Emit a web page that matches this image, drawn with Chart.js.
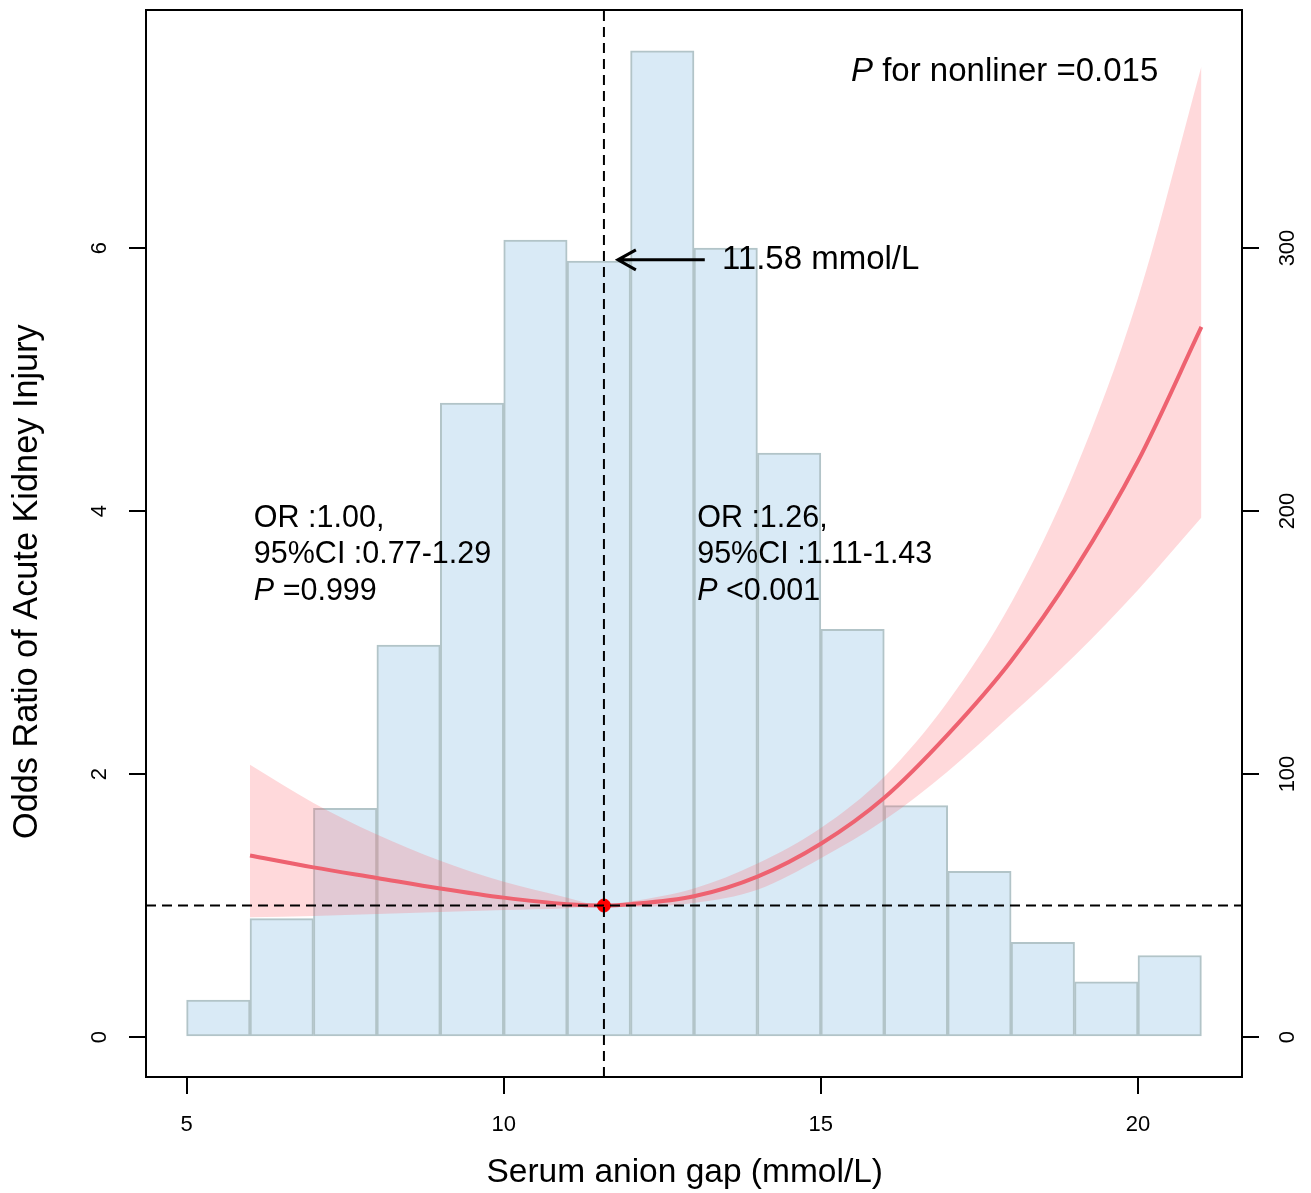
<!DOCTYPE html>
<html>
<head>
<meta charset="utf-8">
<script src="https://cdn.jsdelivr.net/npm/chart.js@4.4.1/dist/chart.umd.min.js"></script>
<style>
html, body { margin: 0; padding: 0; background: #fff; }
#wrap { width: 1311px; height: 1193px; }
</style>
</head>
<body>
<div id="wrap"><canvas id="c" width="1311" height="1193"></canvas></div>
<script>
// histogram of serum anion gap: bin centres and patient counts (right axis)
var binCentres = [5.5, 6.5, 7.5, 8.5, 9.5, 10.5, 11.5, 12.5, 13.5, 14.5, 15.5, 16.5, 17.5, 18.5, 19.5, 20.5];
var binCounts  = [14, 45, 87, 149, 241, 303, 295, 375, 300, 222, 155, 88, 63, 36, 21, 31];

// spline fit: odds ratio and 95% CI (left axis)
var splineX     = [6, 7, 8, 9, 10, 11, 11.58, 12, 13, 14, 15, 16, 17, 18, 19, 20, 21];
var splineOR    = [1.38, 1.29, 1.21, 1.13, 1.06, 1.01, 1.00, 1.01, 1.07, 1.22, 1.47, 1.82, 2.30, 2.86, 3.55, 4.38, 5.40];
var splineUpper = [2.07, 1.78, 1.54, 1.34, 1.18, 1.06, 1.00, 1.03, 1.13, 1.32, 1.59, 1.98, 2.55, 3.30, 4.30, 5.62, 7.38];
var splineLower = [0.91, 0.92, 0.935, 0.95, 0.966, 0.98, 1.00, 0.99, 1.02, 1.12, 1.36, 1.65, 2.02, 2.45, 2.90, 3.40, 3.95];

var refValue   = 11.58;
var xTicks     = [5, 10, 15, 20];
var orTicks    = [0, 2, 4, 6];
var countTicks = [0, 100, 200, 300];

var X_MIN = 4.36, X_MAX = 21.64;
var OR_MIN = -0.304, OR_MAX = 7.81;
var CNT_MIN = OR_MIN * 50, CNT_MAX = OR_MAX * 50;

var FONT = '"Liberation Sans", Arial, Helvetica, sans-serif';

function pts(xs, ys) {
    return xs.map(function (x, i) { return { x: x, y: ys[i] }; });
}

function fixedTicks(list) {
    return function (scale) {
        scale.ticks = list.map(function (v) { return { value: v }; });
    };
}

// draws a line of text where some parts are italic
function richText(ctx, parts, x, y, align, size) {
    var total = 0;
    parts.forEach(function (p) {
        ctx.font = (p.italic ? 'italic ' : '') + size + 'px ' + FONT;
        p.w = ctx.measureText(p.t).width;
        total += p.w;
    });
    var cx = align === 'right' ? x - total : x;
    ctx.textAlign = 'left';
    ctx.textBaseline = 'middle';
    parts.forEach(function (p) {
        ctx.font = (p.italic ? 'italic ' : '') + size + 'px ' + FONT;
        ctx.fillText(p.t, cx, y);
        cx += p.w;
    });
}

var annotations = {
    id: 'annotations',
    afterDraw: function (chart) {
        var ctx = chart.ctx;
        var a = chart.chartArea;
        var xs = chart.scales.x, ys = chart.scales.y;
        ctx.save();
        ctx.fillStyle = '#000';
        ctx.strokeStyle = '#000';

        // plot frame
        ctx.lineWidth = 2;
        ctx.strokeRect(a.left, a.top, a.right - a.left, a.bottom - a.top);

        // P for nonlinearity
        richText(ctx, [{ t: 'P', italic: true }, { t: ' for nonliner =0.015' }],
            xs.getPixelForValue(20.32), ys.getPixelForValue(7.34), 'right', 33);

        // cut-off arrow
        var ay = ys.getPixelForValue(5.91);
        var tip = xs.getPixelForValue(11.80), tail = xs.getPixelForValue(13.17);
        ctx.lineWidth = 3;
        ctx.beginPath();
        ctx.moveTo(tail, ay);
        ctx.lineTo(tip, ay);
        ctx.moveTo(tip + 18, ay - 10);
        ctx.lineTo(tip, ay);
        ctx.lineTo(tip + 18, ay + 10);
        ctx.stroke();
        richText(ctx, [{ t: '11.58 mmol/L' }], xs.getPixelForValue(13.44), ay, 'left', 33);

        // OR blocks
        var leftX = xs.getPixelForValue(6.06), rightX = xs.getPixelForValue(13.05);
        var rows = [3.94, 3.665, 3.385].map(function (v) { return ys.getPixelForValue(v); });
        richText(ctx, [{ t: 'OR :1.00,' }], leftX, rows[0], 'left', 30.5);
        richText(ctx, [{ t: '95%CI :0.77-1.29' }], leftX, rows[1], 'left', 30.5);
        richText(ctx, [{ t: 'P', italic: true }, { t: ' =0.999' }], leftX, rows[2], 'left', 30.5);
        richText(ctx, [{ t: 'OR :1.26,' }], rightX, rows[0], 'left', 30.5);
        richText(ctx, [{ t: '95%CI :1.11-1.43' }], rightX, rows[1], 'left', 30.5);
        richText(ctx, [{ t: 'P', italic: true }, { t: ' <0.001' }], rightX, rows[2], 'left', 30.5);
        ctx.restore();
    }
};

function axisStyle() {
    return {
        grid: { drawOnChartArea: false, drawTicks: true, tickLength: 17, color: '#000', lineWidth: 2, offset: false },
        border: { display: true, color: '#000', width: 2 }
    };
}

var chart = new Chart(document.getElementById('c').getContext('2d'), {
    type: 'line',
    data: {
        datasets: [
            {
                label: 'ref-vertical',
                data: [{ x: refValue, y: OR_MIN }, { x: refValue, y: OR_MAX }],
                borderColor: '#000', borderWidth: 2, borderDash: [10, 6],
                pointRadius: 0, order: 0
            },
            {
                label: 'ref-horizontal',
                data: [{ x: X_MIN, y: 1 }, { x: X_MAX, y: 1 }],
                borderColor: '#000', borderWidth: 2, borderDash: [10, 6],
                pointRadius: 0, order: 0
            },
            {
                label: 'cut-off',
                data: [{ x: refValue, y: 1 }],
                showLine: false, pointRadius: 6.5,
                pointBackgroundColor: '#ff0000', pointBorderColor: '#ff0000', order: 1
            },
            {
                label: 'OR',
                data: pts(splineX, splineOR),
                borderColor: '#ee6270', borderWidth: 4,
                cubicInterpolationMode: 'monotone', pointRadius: 0, order: 2
            },
            {
                label: 'upper',
                data: pts(splineX, splineUpper),
                borderWidth: 0, pointRadius: 0,
                cubicInterpolationMode: 'monotone',
                fill: '+1', backgroundColor: 'rgba(255, 95, 105, 0.24)', order: 3
            },
            {
                label: 'lower',
                data: pts(splineX, splineLower),
                borderWidth: 0, pointRadius: 0,
                cubicInterpolationMode: 'monotone', fill: false, order: 3
            },
            {
                type: 'bar',
                label: 'count',
                yAxisID: 'y2',
                data: pts(binCentres, binCounts),
                backgroundColor: '#d9eaf6',
                borderColor: '#b2c4c8',
                borderWidth: 2,
                borderSkipped: false,
                barPercentage: 1,
                categoryPercentage: 1,
                order: 5
            }
        ]
    },
    options: {
        responsive: false,
        animation: false,
        layout: { padding: { top: 10, left: 0, right: 0, bottom: 0 } },
        plugins: { legend: { display: false }, tooltip: { enabled: false } },
        scales: {
            x: Object.assign({
                type: 'linear', min: X_MIN, max: X_MAX, offset: false,
                afterBuildTicks: fixedTicks(xTicks),
                afterFit: function (s) { s.height = 116; s.paddingLeft = 0; s.paddingRight = 0; },
                ticks: { color: '#000', font: { size: 22, family: FONT }, padding: 18, maxRotation: 0, autoSkip: false },
                title: { display: true, text: 'Serum anion gap (mmol/L)  ', color: '#000',
                         font: { size: 33.5, family: FONT }, padding: { top: 0, bottom: 0 } }
            }, axisStyle()),
            y: Object.assign({
                type: 'linear', position: 'left', min: OR_MIN, max: OR_MAX,
                afterBuildTicks: fixedTicks(orTicks),
                afterFit: function (s) { s.width = 146; s.paddingTop = 0; s.paddingBottom = 0; },
                ticks: { color: '#000', font: { size: 22, family: FONT }, padding: 23,
                         minRotation: 90, maxRotation: 90, crossAlign: 'center' },
                title: { display: true, text: 'Odds Ratio of Acute Kidney Injury        ', color: '#000',
                         font: { size: 34.3, family: FONT }, padding: { top: 7, bottom: 0 } }
            }, axisStyle()),
            y2: Object.assign({
                type: 'linear', position: 'right', min: CNT_MIN, max: CNT_MAX,
                afterBuildTicks: fixedTicks(countTicks),
                afterFit: function (s) { s.width = 69; s.paddingTop = 0; s.paddingBottom = 0; },
                ticks: { color: '#000', font: { size: 22, family: FONT }, padding: 11,
                         minRotation: 90, maxRotation: 90, crossAlign: 'center' }
            }, axisStyle())
        }
    },
    plugins: [annotations]
});
</script>
</body>
</html>
